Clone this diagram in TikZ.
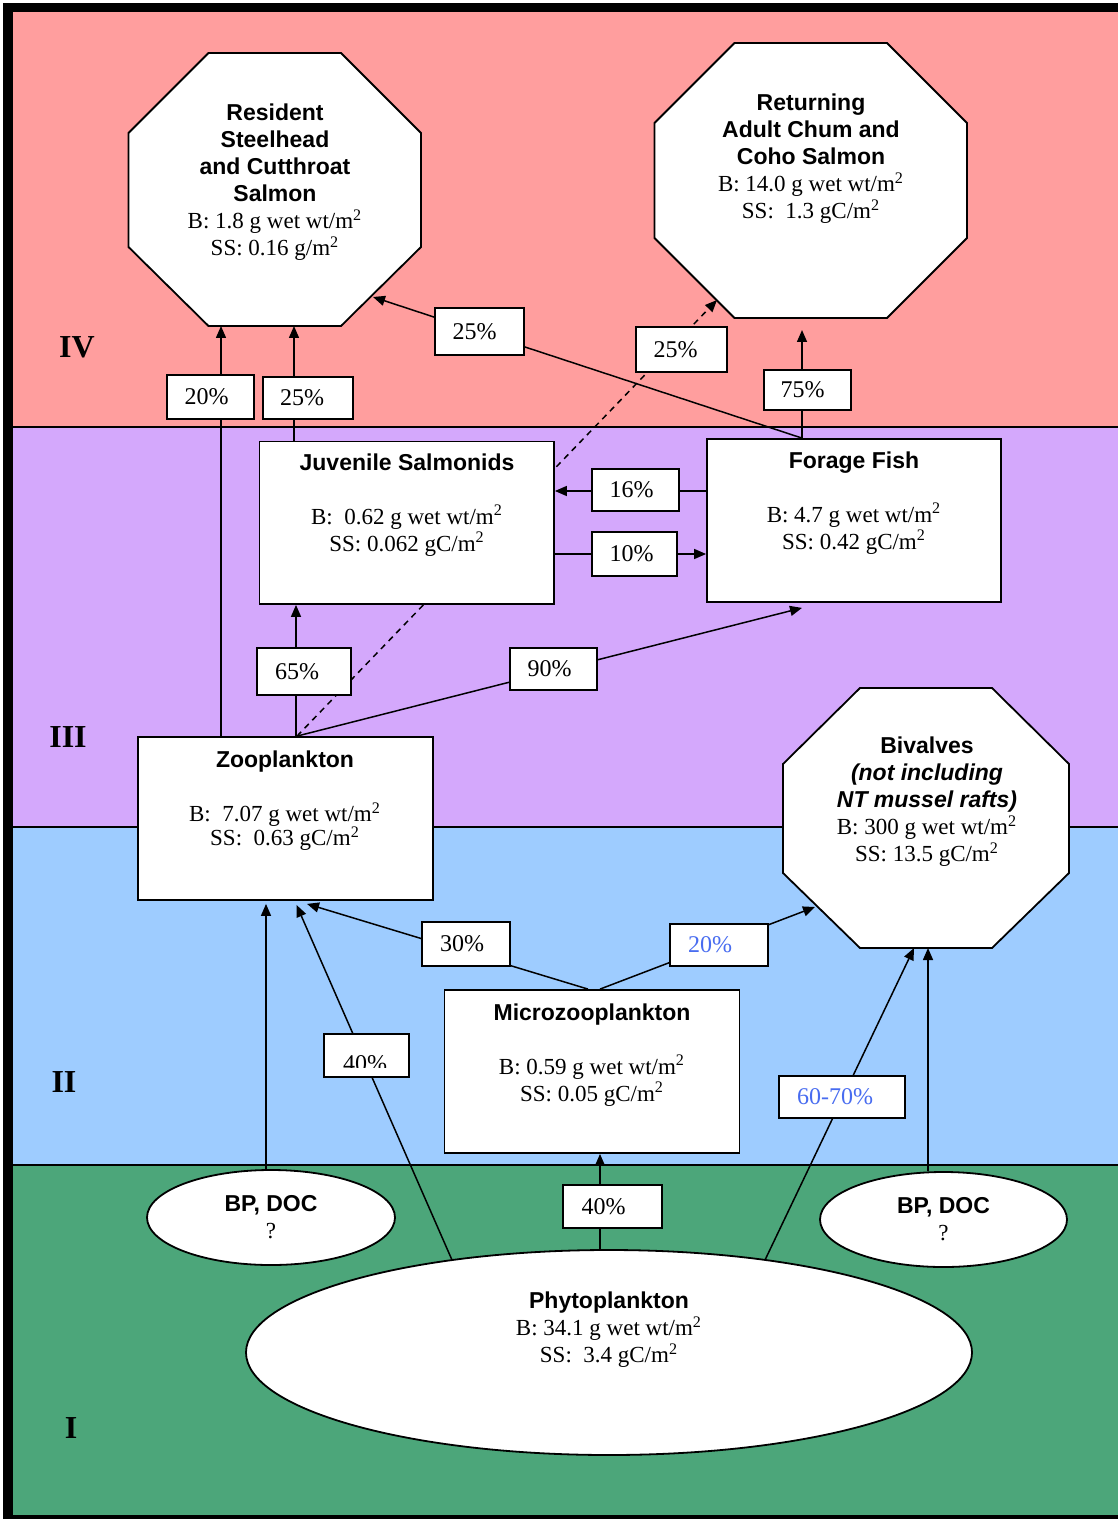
\documentclass[tikz,border=0pt]{standalone}
\usepackage{fontspec}
\setmainfont{Liberation Serif}
\setsansfont{Liberation Sans}
\usetikzlibrary{shapes.geometric,arrows.meta,calc}
\pgfdeclarelayer{bands}
\pgfdeclarelayer{lines}
\pgfsetlayers{bands,lines,main}
\definecolor{bandIV}{RGB}{255,158,158}
\definecolor{bandIII}{RGB}{212,168,252}
\definecolor{bandII}{RGB}{158,204,255}
\definecolor{bandI}{RGB}{76,166,122}
\definecolor{bluetxt}{RGB}{72,108,240}
\newcommand\sqm{m\textsuperscript{2}}
\newcommand\hd[1]{\textsf{\textbf{#1}}}
\newcommand\hdi[1]{\textsf{\textbf{\textit{#1}}}}
\begin{document}
\begin{tikzpicture}[x=0.5pt,y=-0.5pt,
  txt/.style={font=\fontsize{11.5pt}{13.5pt}\selectfont, align=center, inner sep=0pt},
  mainbox/.style={draw, line width=0.9pt, fill=white, inner sep=0pt},
  octo/.style={draw, line width=0.9pt, fill=white, line join=miter},
  pbox/.style={draw, line width=0.75pt, fill=white, inner sep=0pt, font=\fontsize{12pt}{14pt}\selectfont},
  ell/.style={ellipse, draw, line width=0.9pt, fill=white, inner sep=0pt, align=center, font=\fontsize{11.5pt}{13.5pt}\selectfont},
  lvl/.style={font=\fontsize{16pt}{18pt}\selectfont\bfseries, inner sep=0pt},
  conn/.style={line width=0.75pt, -{Triangle[length=6pt,width=5pt]}},
  dconn/.style={conn, dash pattern=on 3pt off 2.5pt}]
\useasboundingbox (0,0) rectangle (1118,1519);

% ---------- background bands ----------
\begin{pgfonlayer}{bands}
\fill[white] (0,0) rectangle (1118,1519);
\fill[black] (3,3) rectangle (1118,1519);
\fill[bandIV] (12.5,12) rectangle (1118,427);
\fill[bandIII] (12.5,427) rectangle (1118,827);
\fill[bandII] (12.5,827) rectangle (1118,1165);
\fill[bandI] (12.5,1165) rectangle (1118,1515);
\draw[line width=0.75pt] (12.5,427) -- (1118,427);
\draw[line width=0.75pt] (12.5,827) -- (1118,827);
\draw[line width=0.75pt] (12.5,1165) -- (1118,1165);
\end{pgfonlayer}

% ---------- level labels ----------
\node[lvl] (lIV) at (77,347) {IV};
\node[lvl] (lIII) at (68,737) {III};
\node[lvl] (lII) at (64,1082) {II};
\node[lvl] (lI) at (71,1428) {I};

% ---------- octagons ----------
\draw[octo] (208.5,53) -- (341,53) -- (421,133) -- (421,247) -- (341,326) -- (208.5,326) -- (128.5,247) -- (128.5,133) -- cycle;
\node[txt] (restxt) at (275,182.5) {\hd{Resident}\\\hd{Steelhead}\\\hd{and Cutthroat}\\\hd{Salmon}\\B: 1.8 g wet wt/\sqm\\SS: 0.16 g/\sqm};

\draw[octo] (734.5,43) -- (887,43) -- (967,123) -- (967,238) -- (887,318) -- (734.5,318) -- (654.5,238) -- (654.5,123) -- cycle;
\node[txt] (rettxt) at (811,159) {\hd{Returning}\\\hd{Adult Chum and}\\\hd{Coho Salmon}\\B: 14.0 g wet wt/\sqm\\SS:\ \ 1.3 gC/\sqm};

\draw[octo] (860,688) -- (992,688) -- (1069,764) -- (1069,873) -- (992,948) -- (860,948) -- (783,873) -- (783,764) -- cycle;
\node[txt] (bivtxt) at (927,802) {\hd{Bivalves}\\\hdi{(not including}\\\hdi{NT mussel rafts)}\\B: 300 g wet wt/\sqm\\SS: 13.5 gC/\sqm};

\coordinate (resB1) at (221,326);
\coordinate (resB2) at (294,326);
\coordinate (resC) at (373,297);
\coordinate (retC) at (717,300);
\coordinate (retB) at (802,330);
\coordinate (bivC) at (815,907);
\coordinate (bivB1) at (914,948);
\coordinate (bivB2) at (928,948);

% ---------- boxes ----------
\node[mainbox, minimum width=147.25pt, minimum height=81.25pt] (juv) at (406.75,522.75) {};
\node[txt] (juvtxt) at (407,505) {\hd{Juvenile Salmonids}\\[13.5pt]B:\ \ 0.62 g wet wt/\sqm\\SS: 0.062 gC/\sqm};

\node[mainbox, minimum width=147pt, minimum height=81.5pt] (forage) at (854,520.5) {};
\node[txt] (fortxt) at (854,503) {\hd{Forage Fish}\\[13.5pt]B: 4.7 g wet wt/\sqm\\SS: 0.42 gC/\sqm};

\node[mainbox, minimum width=147.5pt, minimum height=81.5pt] (zoo) at (285.5,818.5) {};
\node[txt] (zootxt) at (285,801) {\hd{Zooplankton}\\[13.5pt]B:\ \ 7.07 g wet wt/\sqm\\[-1.5pt]SS:\ \ 0.63 gC/\sqm};

\node[mainbox, minimum width=147.5pt, minimum height=81.5pt] (micro) at (592,1071.5) {};
\node[txt] (mictxt) at (592,1055) {\hd{Microzooplankton}\\[13.5pt]B: 0.59 g wet wt/\sqm\\SS: 0.05 gC/\sqm};

% ---------- ellipses ----------
\node[ell, minimum width=124pt, minimum height=47.5pt] (bpL) at (271,1217.5) {\hd{BP, DOC}\\?};
\node[ell, minimum width=123.5pt, minimum height=47.5pt] (bpR) at (943.5,1219.5) {\hd{BP, DOC}\\?};
\node[ell, minimum width=363pt, minimum height=102.5pt] (phyto) at (609,1352.5) {};
\node[txt] (phytxt) at (609,1330) {\hd{Phytoplankton}\\B: 34.1 g wet wt/\sqm\\SS:\ \ 3.4 gC/\sqm};

\coordinate (phyL) at (452,1260);
\coordinate (phyR) at (765,1260);

% ---------- percent boxes ----------
\node[pbox, minimum width=43.5pt, minimum height=22pt] (p20a) at (210.5,397) {20\%\kern4pt};
\node[pbox, minimum width=45pt, minimum height=21pt] (p25a) at (308,398) {25\%\kern6pt};
\node[pbox, minimum width=44.5pt, minimum height=23.5pt] (p25b) at (479.5,331.5) {25\%\kern5pt};
\node[pbox, minimum width=45.5pt, minimum height=22.5pt] (p25c) at (681.5,349.5) {25\%\kern6pt};
\node[pbox, minimum width=43.5pt, minimum height=20pt] (p75) at (807.5,390) {75\%\kern5pt};
\node[pbox, minimum width=43.5pt, minimum height=21pt] (p16) at (635.5,490) {16\%\kern4pt};
\node[pbox, minimum width=42.5pt, minimum height=22pt] (p10) at (634.5,554) {10\%\kern3pt};
\node[pbox, minimum width=47pt, minimum height=23.5pt] (p65) at (304,671.5) {65\%\kern7pt};
\node[pbox, minimum width=43.5pt, minimum height=21pt] (p90) at (553.5,669) {90\%\kern4pt};
\node[pbox, minimum width=44pt, minimum height=22pt] (p30) at (466,944) {30\%\kern4pt};
\node[pbox, minimum width=49pt, minimum height=21pt, text=bluetxt] (p20b) at (719,945) {20\%\kern9pt};
\node[pbox, minimum width=42.5pt, minimum height=21.5pt] (p40a) at (366.5,1055.5) {};
\begin{scope}
\clip (325,1036) rectangle (408,1067);
\node[pbox, draw=none, fill=none, anchor=base] (p40atxt) at (365,1071) {40\%};
\end{scope}
\node[pbox, minimum width=63pt, minimum height=21pt, text=bluetxt] (p6070) at (842,1097) {60-70\%\kern7pt};
\node[pbox, minimum width=49.5pt, minimum height=21.5pt] (p40b) at (612.5,1206.5) {40\%\kern9pt};

% ---------- connectors ----------
\begin{pgfonlayer}{lines}
\coordinate (zooT) at ($(zoo.north)+(11.5,0)$);
\draw[conn] (zoo.north -| resB1) -- (resB1);
\draw[conn] (juv.north -| resB2) -- (resB2);
\draw[conn] (forage.north -| retB) -- (resC);
\draw[conn] (forage.north -| retB) -- (retB);
\draw[dconn] (zooT) -- (retC);
\draw[conn] ($(forage.west)+(0,-29.5)$) coordinate (a16) -- (a16 -| juv.east);
\draw[conn] ($(juv.east)+(0,31.25)$) coordinate (a10) -- (a10 -| forage.west);
\draw[conn] ($(zoo.north)+(10.5,0)$) coordinate (z65) -- (z65 |- juv.south);
\draw[conn] (zooT) -- ($(forage.south)+(-52,5)$);
\draw[conn] ($(micro.north)+(-4,0)$) -- ($(zoo.south)+(21.5,3)$);
\draw[conn] ($(micro.north)+(8,0)$) -- (bivC);
\draw[conn] (phyL) -- ($(zoo.south)+(11,4)$);
\draw[conn] ($(bpL.north)+(-5,0)$) coordinate (b1) -- ($(b1 |- zoo.south)+(0,3)$);
\draw[conn] ($(micro.south)+(8,0)$) coordinate (m1) (m1 |- phyto.north) -- (m1);
\draw[conn] (phyR) -- (bivB1);
\draw[conn] ($(bpR.north)+(-15.5,0)$) -- (bivB2);
\end{pgfonlayer}
\end{tikzpicture}
\end{document}
